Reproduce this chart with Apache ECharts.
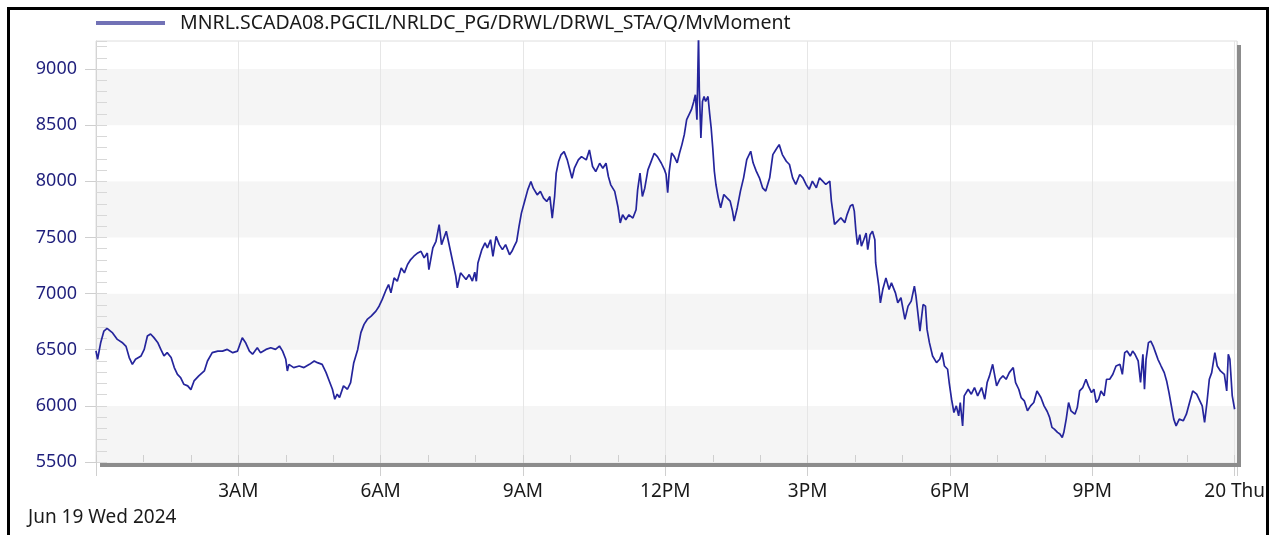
<!DOCTYPE html>
<html>
<head>
<meta charset="utf-8">
<title>MvMoment</title>
<script src="https://cdn.jsdelivr.net/npm/echarts@6/dist/echarts.min.js"></script>
<style>
  html, body { margin: 0; padding: 0; background: #ffffff; }
  #chart { width: 1273px; height: 535px; }
</style>
</head>
<body>
<div id="chart"></div>
<script>
// Series name shown in the legend
const seriesName = 'MNRL.SCADA08.PGCIL/NRLDC_PG/DRWL/DRWL_STA/Q/MvMoment';
const dateLabel = 'Jun 19 Wed 2024';

// Sample times in minutes after midnight, Jun 19 2024
const minutes = [
  0, 2, 6, 10, 14, 21, 27, 33, 38, 42, 46, 50, 57, 61, 65, 69, 73, 78, 82, 86,
  90, 95, 99, 103, 107, 111, 116, 120, 124, 130, 137, 141, 147, 154, 160, 166, 173, 179, 185, 189,
  194, 198, 204, 208, 215, 221, 227, 232, 236, 240, 242,
  244, 250, 257, 263, 270, 276, 280, 286, 291, 295, 299, 302, 305, 308, 313, 318, 322, 326, 331, 335,
  339, 343, 348, 354, 358, 362, 367, 370, 373, 377, 381, 386, 390, 394, 398, 402, 407, 411, 415, 419,
  421, 426, 430, 434, 437, 443, 447, 451, 455, 457, 461, 468, 472, 476,
  479, 481, 483, 488, 492, 495, 499, 502, 506, 510, 514, 518, 523, 526, 529, 532, 535, 538, 542, 546,
  550, 553, 558, 562, 566, 570, 574, 577, 580, 582, 585, 588, 592, 596, 602, 605, 610, 614, 620, 624,
  628, 632, 637, 641, 645, 648, 651, 656, 660, 663, 666, 670, 674, 679, 683, 685, 688, 691, 694, 698,
  702, 706, 710, 715, 719,
  721, 723, 725, 728, 731, 735, 738, 741, 744, 747, 750, 753, 756, 758, 760, 762, 763, 765, 767, 769,
  771, 774, 776, 778, 780, 782, 784, 787, 790, 794, 798, 802, 805, 807, 811, 815, 819, 823, 828, 831,
  835, 839, 843, 847, 852, 856, 860, 864, 868, 873, 877, 881, 885, 890, 894, 898, 902, 906, 911, 915,
  919, 923, 928, 930, 934, 938, 942, 947, 950, 954, 957, 959,
  961, 963, 966, 968, 971, 974, 976, 979, 982, 985, 986, 988, 990, 992, 995, 999, 1003, 1006, 1011, 1014,
  1018, 1023, 1027, 1031, 1035, 1037, 1042, 1046, 1049, 1051, 1054, 1058, 1063, 1067, 1070, 1073, 1077, 1079, 1082, 1085,
  1088, 1091, 1093, 1096, 1098, 1103, 1107, 1111, 1115, 1120, 1124, 1127, 1130, 1134, 1139, 1143, 1147, 1151, 1155, 1160,
  1163, 1167, 1170, 1174, 1178, 1182, 1186, 1190, 1195, 1199,
  1203, 1206, 1209, 1212, 1216, 1219, 1222, 1224, 1227, 1230, 1233, 1238, 1241, 1244, 1248, 1252, 1255, 1259, 1262, 1265,
  1268, 1271, 1275, 1278, 1282, 1286, 1290, 1295, 1298, 1301, 1304, 1308, 1311, 1314, 1318, 1321, 1324, 1326, 1328, 1331,
  1334, 1337, 1340, 1343, 1347, 1351, 1354, 1357, 1360, 1363, 1366, 1370, 1375, 1379, 1383, 1387, 1392, 1396, 1399, 1402,
  1405, 1408, 1411, 1415, 1418, 1422, 1427, 1430, 1432, 1434, 1437, 1439, 1440
];

// MvMoment readings at those times
const values = [
  6490, 6415, 6565, 6666, 6690, 6650, 6592, 6565, 6530, 6430, 6370, 6415, 6445, 6503, 6622, 6640, 6610, 6565, 6503, 6445,
  6474, 6430, 6341, 6281, 6252, 6193, 6178, 6145, 6222, 6267, 6311, 6400, 6474, 6488, 6488, 6503, 6474, 6488, 6607, 6565,
  6488, 6460, 6518, 6474, 6503, 6518, 6503, 6533, 6488, 6415, 6311,
  6370, 6341, 6355, 6341, 6370, 6400, 6385, 6370, 6296, 6222, 6148, 6059, 6104, 6074, 6178, 6148, 6207, 6385, 6503, 6652,
  6726, 6770, 6799, 6844, 6888, 6948, 7036, 7081, 7007, 7140, 7111, 7229, 7185, 7259, 7303, 7333, 7362, 7377, 7318, 7362,
  7214, 7407, 7466, 7614, 7436, 7555, 7422, 7288, 7155, 7051, 7185, 7125, 7170, 7111,
  7190, 7110, 7273, 7392, 7451, 7407, 7480, 7332, 7510, 7436, 7392, 7436, 7347, 7377, 7422, 7466, 7599, 7717, 7821, 7924,
  7999, 7939, 7880, 7910, 7850, 7821, 7865, 7673, 7865, 8073, 8176, 8235, 8265, 8191, 8028, 8117, 8191, 8220, 8191, 8280,
  8132, 8087, 8161, 8117, 8161, 8043, 7969, 7910, 7776, 7629, 7702, 7658, 7702, 7673, 7747, 7924, 8073, 7865, 7939, 8102,
  8176, 8250, 8220, 8161, 8102,
  8061, 7898, 8091, 8253, 8224, 8165, 8253, 8327, 8416, 8549, 8594, 8638, 8712, 8771, 8549, 9300, 8815, 8386, 8712, 8756,
  8712, 8756, 8608, 8475, 8297, 8090, 7972, 7853, 7765, 7883, 7853, 7824, 7735, 7646, 7765, 7913, 8031, 8194, 8268, 8165,
  8091, 8031, 7942, 7913, 8031, 8238, 8283, 8327, 8238, 8179, 8150, 8031, 7972, 8061, 8031, 7972, 7928, 8002, 7942, 8031,
  8002, 7972, 8002, 7824, 7617, 7646, 7676, 7632, 7706, 7780, 7795, 7735,
  7560, 7436, 7525, 7422, 7480, 7540, 7392, 7525, 7555, 7480, 7273, 7170, 7066, 6918, 7036, 7140, 7036, 7096, 7007, 6918,
  6963, 6770, 6888, 6933, 7066, 6977, 6666, 6903, 6888, 6681, 6563, 6444, 6385, 6415, 6474, 6355, 6326, 6208, 6059, 5941,
  6000, 5911, 6030, 5822, 6089, 6148, 6104, 6163, 6089, 6163, 6059, 6208, 6267, 6370, 6178, 6237, 6267, 6237, 6296, 6341,
  6208, 6148, 6074, 6045, 5956, 6000, 6030, 6133, 6074, 6000,
  5950, 5897, 5808, 5793, 5764, 5749, 5719, 5764, 5882, 6030, 5956, 5926, 5985, 6133, 6163, 6237, 6178, 6118, 6148, 6030,
  6059, 6133, 6089, 6237, 6237, 6281, 6355, 6370, 6281, 6474, 6488, 6444, 6488, 6459, 6400, 6208, 6459, 6148, 6415, 6563,
  6577, 6533, 6474, 6415, 6355, 6296, 6222, 6118, 6000, 5882, 5822, 5882, 5867, 5926, 6030, 6133, 6104, 6045, 6000, 5852,
  6030, 6237, 6296, 6474, 6355, 6311, 6281, 6133, 6459, 6415, 6089, 6074, 5970
];

// Bottom axis labels, one per 3-hour step from midnight to midnight
const xTickLabels = ['', '3AM', '6AM', '9AM', '12PM', '3PM', '6PM', '9PM', '20 Thu'];
// Left axis label values
const yTickValues = [5500, 6000, 6500, 7000, 7500, 8000, 8500, 9000];

const FONT = '"Noto Sans", "DejaVu Sans", sans-serif';
const seriesData = minutes.map((m, i) => [m, values[i]]);

const chart = echarts.init(document.getElementById('chart'), null, { renderer: 'canvas' });

const axisGrey = '#cfcfcf';

chart.setOption({
  animation: false,
  backgroundColor: '#ffffff',
  textStyle: { fontFamily: FONT },
  title: {
    text: dateLabel,
    left: 28,
    top: 508,
    padding: 0,
    textStyle: { fontFamily: FONT, fontSize: 19, fontWeight: 'normal', color: '#1a1a1a' }
  },
  legend: {
    left: 96,
    top: 13,
    padding: 0,
    icon: 'rect',
    itemWidth: 69,
    itemHeight: 4,
    data: [{ name: seriesName, itemStyle: { color: '#7272b6' } }],
    textStyle: { fontFamily: FONT, fontSize: 19.5, color: '#1a1a1a', padding: [0, 0, 0, 10] }
  },
  grid: {
    left: 96,
    top: 41,
    right: 36,
    bottom: 73,
    show: true,
    borderColor: '#dedede',
    borderWidth: 1,
    backgroundColor: 'transparent'
  },
  xAxis: [
    {
      type: 'value',
      position: 'bottom',
      min: 0,
      max: 1443,
      interval: 180,
      axisLine: { show: false },
      axisTick: { show: true, length: 14, lineStyle: { color: axisGrey } },
      axisLabel: {
        fontFamily: FONT,
        fontSize: 19,
        color: '#1a1a1a',
        margin: 20,
        showMinLabel: true,
        showMaxLabel: true,
        formatter: v => (v % 180 === 0 ? (xTickLabels[v / 180] || '') : '')
      },
      splitLine: { show: true, lineStyle: { color: '#e6e6e6', width: 1 } }
    },
    {
      // hourly ticks pointing into the plot
      type: 'value',
      position: 'bottom',
      min: 0,
      max: 1443,
      interval: 60,
      axisLine: { show: false },
      axisTick: { show: true, inside: true, length: 7, lineStyle: { color: axisGrey } },
      axisLabel: { show: false },
      splitLine: { show: false }
    }
  ],
  yAxis: [
    {
      type: 'value',
      position: 'left',
      min: 5500,
      max: 9250,
      interval: 500,
      axisLine: { show: true, lineStyle: { color: '#d4d4d4' } },
      axisTick: { show: true, length: 11, customValues: yTickValues, lineStyle: { color: axisGrey } },
      axisLabel: {
        fontFamily: FONT,
        fontSize: 18,
        color: '#1f1f7c',
        margin: 19,
        customValues: yTickValues,
        formatter: v => (v % 500 === 0 ? String(v) : '')
      },
      splitLine: { show: false },
      splitArea: { show: true, areaStyle: { color: ['#f5f5f5', '#ffffff'] } }
    },
    {
      // 100-step ticks pointing into the plot
      type: 'value',
      position: 'left',
      min: 5500,
      max: 9250,
      interval: 100,
      axisLine: { show: false },
      axisTick: { show: true, inside: true, length: 11, lineStyle: { color: '#d8d8d8' } },
      axisLabel: { show: false },
      splitLine: { show: false }
    }
  ],
  series: [
    {
      name: seriesName,
      type: 'line',
      xAxisIndex: 0,
      yAxisIndex: 0,
      data: seriesData,
      showSymbol: false,
      symbol: 'none',
      clip: true,
      itemStyle: { color: '#7272b6' },
      lineStyle: { color: '#25259c', width: 1.7 },
      z: 3
    }
  ],
  graphic: [
    // drop shadow along the bottom and right of the plot
    { type: 'rect', z: 100, shape: { x: 100, y: 463, width: 1141, height: 4 }, style: { fill: '#8c8c8c' } },
    { type: 'rect', z: 100, shape: { x: 1237, y: 45, width: 4, height: 422 }, style: { fill: '#8c8c8c' } },
    // window frame
    { type: 'rect', z: 100, shape: { x: 8.5, y: 8.5, width: 1259, height: 600 }, style: { fill: 'none', stroke: '#000000', lineWidth: 3 } }
  ]
});
</script>
</body>
</html>
